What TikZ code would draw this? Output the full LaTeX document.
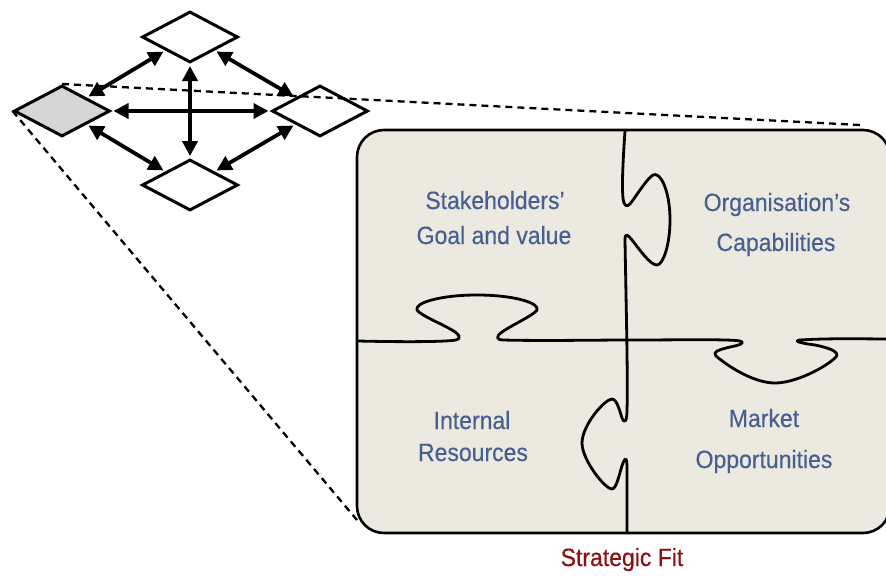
\documentclass[tikz,border=0pt]{standalone}
\usepackage{fontspec}
\setmainfont{Liberation Sans}[FakeStretch=0.92,FakeBold=0.4]
\usetikzlibrary{shapes.geometric,arrows.meta}
\definecolor{boxfill}{HTML}{ECE9E1}
\definecolor{lblue}{HTML}{47608F}
\definecolor{fitred}{HTML}{8B1111}
\definecolor{dgray}{HTML}{D6D6D6}
\tikzset{
  dia/.style={diamond, draw=black, line width=3pt, fill=white, minimum width=96pt, minimum height=51pt, inner sep=0pt},
  twoway/.style={line width=3.8pt, {Triangle[length=15pt,width=15pt]}-{Triangle[length=15pt,width=15pt]}, shorten <=2pt, shorten >=2pt},
  zoomline/.style={dashed, dash pattern=on 7pt off 5pt, line width=2.3pt},
  piece/.style={line width=2.8pt, line join=round, line cap=round},
  lbl/.style={anchor=base, text=lblue, font=\fontsize{25}{29}\selectfont, inner sep=0pt},
  fitlbl/.style={anchor=base, text=fitred, font=\fontsize{25}{29}\selectfont, inner sep=0pt}
}
\begin{document}
\begin{tikzpicture}[x=1pt,y=-1pt]
\useasboundingbox (0,0) rectangle (886,576);
% zoom box
\node[draw=black, line width=2.6pt, fill=boxfill, rounded corners=27pt, minimum width=533pt, minimum height=403pt, inner sep=0pt] (box) at (623.5,331.5) {};
% diamonds
\node[dia] (top) at (190,37) {};
\node[dia, fill=dgray] (lft) at (62,111) {};
\node[dia] (rgt) at (320,111) {};
\node[dia] (bot) at (190,185) {};
% dashed zoom lines
\coordinate (zt) at (860,125);
\coordinate (zb) at (357,520);
\draw[zoomline] (lft.north) -- (zt);
\draw[zoomline] (lft.west) -- (zb);
% arrows
\draw[twoway] (lft.east) -- (rgt.west);
\draw[twoway] (top.south) -- (bot.north);
\draw[twoway] (top.south west) -- (lft.north east);
\draw[twoway] (top.south east) -- (rgt.north west);
\draw[twoway] (lft.south east) -- (bot.north west);
\draw[twoway] (rgt.south west) -- (bot.north east);
% puzzle: horizontal divider
\draw[piece] (358,341) .. controls (400,342) and (445,342) .. (456,340)
  .. controls (462,338) and (459,334) .. (452,330)
  .. controls (440,323) and (420,315) .. (417,310)
  .. controls (414,303) and (440,295) .. (477,295)
  .. controls (514,295) and (540,303) .. (537,310)
  .. controls (534,315) and (512,325) .. (502,332)
  .. controls (495,337) and (497,340) .. (503,340)
  .. controls (540,341) and (600,340) .. (627,340)
  .. controls (680,340) and (730,339) .. (740,341)
  .. controls (746,343) and (740,345) .. (730,347)
  .. controls (718,350) and (712,352) .. (716,356)
  .. controls (730,368) and (755,383) .. (775,383)
  .. controls (795,383) and (825,368) .. (836,357)
  .. controls (840,352) and (830,348) .. (815,345)
  .. controls (800,343) and (793,341) .. (800,340)
  .. controls (830,338) and (870,339) .. (888,339);
% puzzle: vertical divider
\draw[piece] (625,131) .. controls (623,160) and (621,195) .. (624,203)
  .. controls (626,208) and (629,206) .. (633,200)
  .. controls (640,190) and (648,178) .. (653,175)
  .. controls (660,171) and (670,190) .. (670,220)
  .. controls (670,245) and (663,265) .. (657,265)
  .. controls (650,265) and (640,250) .. (632,240)
  .. controls (628,235) and (625,232) .. (625,240)
  .. controls (626,300) and (628,380) .. (627,410)
  .. controls (627,420) and (625,425) .. (622,418)
  .. controls (620,412) and (617,399) .. (612,399)
  .. controls (605,399) and (582,425) .. (582,443)
  .. controls (582,460) and (605,489) .. (612,489)
  .. controls (617,489) and (620,470) .. (623,463)
  .. controls (626,456) and (627,458) .. (627,470)
  -- (627,533);
% labels
\node[lbl] (t1a) at (495,209) {Stakeholders’};
\node[lbl] (t1b) at (494,244) {Goal and value};
\node[lbl] (t2a) at (777,211) {Organisation’s};
\node[lbl] (t2b) at (776,251) {Capabilities};
\node[lbl] (t3a) at (472,429) {Internal};
\node[lbl] (t3b) at (473,461) {Resources};
\node[lbl] (t4a) at (764,427) {Market};
\node[lbl] (t4b) at (764,468) {Opportunities};
\node[fitlbl] (fit) at (622,566) {Strategic Fit};
\end{tikzpicture}
\end{document}
